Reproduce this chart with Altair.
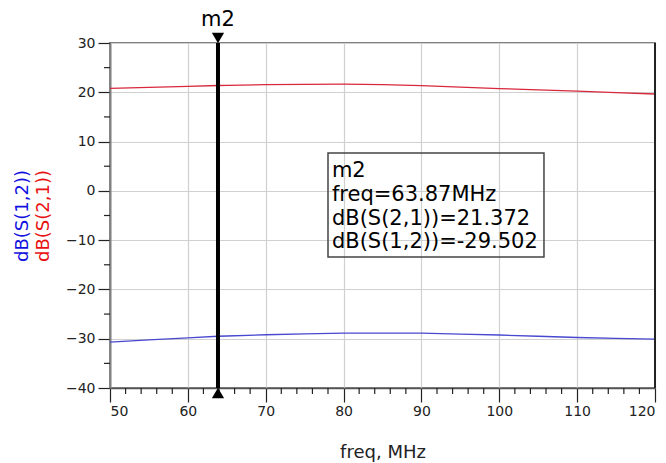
import altair as alt
import pandas as pd

# ---- data ----
FREQ = [50, 55, 60, 63.87, 65, 70, 75, 80, 85, 90, 95, 100, 105, 110, 115, 120]
S21 = [20.8, 21.0, 21.2, 21.372, 21.42, 21.55, 21.62, 21.65, 21.55, 21.35, 21.05, 20.75, 20.5, 20.25, 19.95, 19.65]
S12 = [-30.7, -30.25, -29.85, -29.502, -29.45, -29.2, -29.0, -28.88, -28.85, -28.88, -29.05, -29.25, -29.5, -29.75, -29.95, -30.07]

X_TICKS = [50, 60, 70, 80, 90, 100, 110, 120]
Y_TICKS = [-40, -30, -20, -10, 0, 10, 20, 30]
X_MINOR = [v for v in range(50, 121, 2) if v % 10 != 0]
Y_MINOR = [-35, -25, -15, -5, 5, 15, 25]
X_DOMAIN = [50, 120]
Y_DOMAIN = [-40, 30]

MARKER_FREQ = 63.87
MARKER_NAME = "m2"
MARKER_LINES = ["m2", "freq=63.87MHz", "dB(S(2,1))=21.372", "dB(S(1,2))=-29.502"]
BOX = {"x": 78.0, "x2": 105.74, "y": 7.68, "y2": -13.42}
BOX_TEXT_X = 78.5
BOX_TEXT_Y = 4.0

SERIES = ["dB(S(2,1))", "dB(S(1,2))"]
COLORS = ["#d8283c", "#4848d0"]
TITLE_COLORS = ["#e81010", "#1010e0"]

FONT = "DejaVu Sans"

rows = []
for f, a, b in zip(FREQ, S21, S12):
    rows.append({"freq": f, "value": a, "series": SERIES[0]})
    rows.append({"freq": f, "value": b, "series": SERIES[1]})
df = pd.DataFrame(rows)

xs = alt.Scale(domain=X_DOMAIN, nice=False, zero=False)
ys = alt.Scale(domain=Y_DOMAIN, nice=False, zero=False)

lines = alt.Chart(df).mark_line(strokeWidth=1.3, clip=True).encode(
    x=alt.X("freq:Q", scale=xs,
            axis=alt.Axis(values=X_TICKS, title="freq, MHz", grid=True, gridColor="#d0d0d0",
                          gridWidth=1.2, tickSize=14, tickColor="#222222", tickWidth=1.2,
                          domainColor="#555555", domainWidth=1.5,
                          labelFont=FONT, labelFontSize=14, labelColor="#222222", labelPadding=2,
                          titleFont=FONT, titleFontSize=18, titleFontWeight="normal",
                          titleColor="#222222", titlePadding=25)),
    y=alt.Y("value:Q", scale=ys,
            axis=alt.Axis(values=Y_TICKS, title=None, grid=True, gridColor="#d0d0d0",
                          gridWidth=1.2, tickSize=12, tickColor="#222222", tickWidth=1.2,
                          domainColor="#808080", domainWidth=2,
                          labelFont=FONT, labelFontSize=14, labelColor="#222222", labelPadding=3)),
    color=alt.Color("series:N", scale=alt.Scale(domain=SERIES, range=COLORS), legend=None),
    detail="series:N",
)

xminor = alt.Chart(pd.DataFrame({"v": X_MINOR})).mark_rule(color="#222222", strokeWidth=1.2).encode(
    x=alt.X("v:Q", scale=xs), y=alt.value(345), y2=alt.value(351))
yminor = alt.Chart(pd.DataFrame({"v": Y_MINOR})).mark_rule(color="#222222", strokeWidth=1.2).encode(
    y=alt.Y("v:Q", scale=ys), x=alt.value(-6), x2=alt.value(0))

right_border = alt.Chart(pd.DataFrame({"v": [X_DOMAIN[1]]})).mark_rule(color="#222222", strokeWidth=2).encode(
    x=alt.X("v:Q", scale=xs), y=alt.value(0), y2=alt.value(345))

mdf = pd.DataFrame({"f": [MARKER_FREQ], "top": [Y_DOMAIN[1]], "bot": [Y_DOMAIN[0]], "name": [MARKER_NAME]})
mline = alt.Chart(mdf).mark_rule(color="black", strokeWidth=4).encode(
    x=alt.X("f:Q", scale=xs), y=alt.Y("top:Q", scale=ys), y2="bot:Q")
tri_top = alt.Chart(mdf).mark_point(shape="triangle-down", filled=True, color="black", size=150,
                                    opacity=1, yOffset=-5).encode(
    x=alt.X("f:Q", scale=xs), y=alt.Y("top:Q", scale=ys))
tri_bot = alt.Chart(mdf).mark_point(shape="triangle-up", filled=True, color="black", size=150,
                                    opacity=1, yOffset=5).encode(
    x=alt.X("f:Q", scale=xs), y=alt.Y("bot:Q", scale=ys))
mlabel = alt.Chart(mdf).mark_text(font=FONT, fontSize=21, color="black", baseline="alphabetic",
                                  align="center", yOffset=-17).encode(
    x=alt.X("f:Q", scale=xs), y=alt.Y("top:Q", scale=ys), text="name:N")

box = alt.Chart(pd.DataFrame([BOX])).mark_rect(fill=None, fillOpacity=0, stroke="#444444", strokeWidth=1.5).encode(
    x=alt.X("x:Q", scale=xs), x2="x2:Q", y=alt.Y("y:Q", scale=ys), y2="y2:Q")
box_text = alt.Chart(pd.DataFrame({"x": [BOX_TEXT_X], "y": [BOX_TEXT_Y]})).mark_text(
    font=FONT, fontSize=21, color="black", align="left", baseline="middle", lineHeight=23.7,
    text=MARKER_LINES).encode(
    x=alt.X("x:Q", scale=xs), y=alt.Y("y:Q", scale=ys))

yt_blue = alt.Chart(pd.DataFrame({"t": [SERIES[1]]})).mark_text(
    font=FONT, fontSize=18, color=TITLE_COLORS[1], angle=270,
    align="center", baseline="middle").encode(x=alt.value(-87), y=alt.value(173), text="t:N")
yt_red = alt.Chart(pd.DataFrame({"t": [SERIES[0]]})).mark_text(
    font=FONT, fontSize=18, color=TITLE_COLORS[0], angle=270,
    align="center", baseline="middle").encode(x=alt.value(-66), y=alt.value(173), text="t:N")

chart = alt.layer(lines, xminor, yminor, right_border, box, box_text, mline, tri_top, tri_bot,
                  mlabel, yt_blue, yt_red).properties(
    width=545, height=345,
    autosize=alt.AutoSizeParams(type="none"),
    padding={"left": 102, "top": 35, "right": 3, "bottom": 78},
    background="white",
).configure_view(stroke="#808080", strokeWidth=2)

chart.save("out.html", embed_options={"renderer": "svg", "actions": False})
